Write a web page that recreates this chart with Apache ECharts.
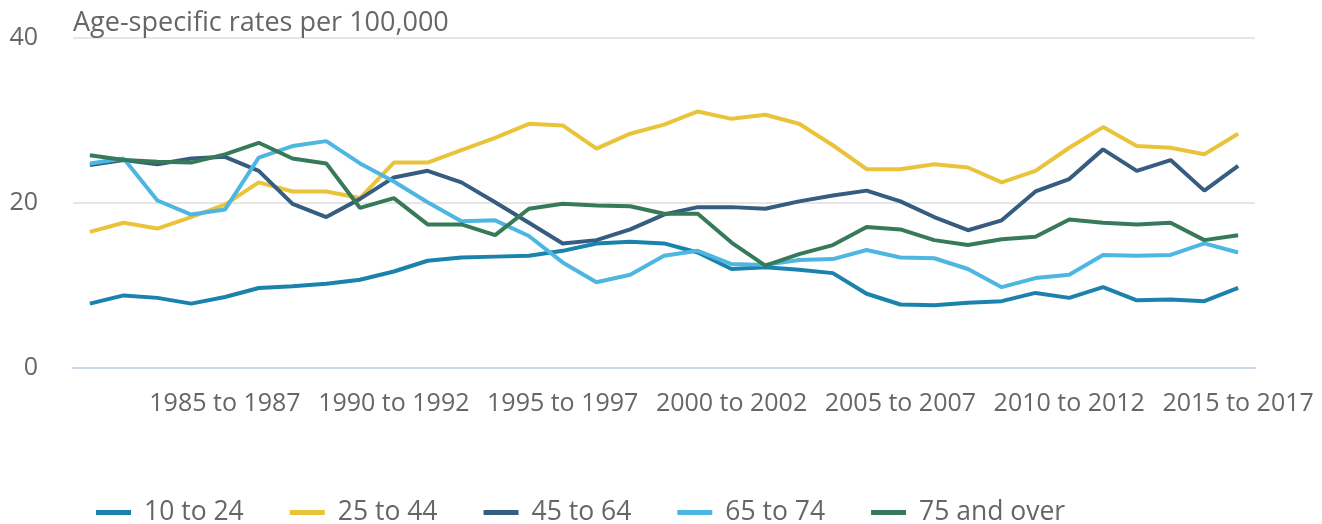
<!DOCTYPE html>
<html>
<head>
<meta charset="utf-8">
<style>
  html, body { margin: 0; padding: 0; background: #fff; }
  #chart { width: 1322px; height: 524px; }
</style>
<script src="https://cdn.jsdelivr.net/npm/echarts@6/dist/echarts.min.js"></script>
</head>
<body>
<div id="chart"></div>
<script>
// three-year periods, 1981 to 1983 ... 2015 to 2017
const periods = [];
for (let y = 1981; y <= 2015; y++) periods.push(y + " to " + (y + 2));

const seriesNames = ["10 to 24", "25 to 44", "45 to 64", "65 to 74", "75 and over"];
const seriesColors = ["#1b82ad", "#e9c43b", "#365c80", "#4db6e1", "#377a59"];

const age10to24 = [7.8, 8.8, 8.5, 7.8, 8.6, 9.7, 9.9, 10.2, 10.7, 11.7, 13.0, 13.4, 13.5, 13.6, 14.2, 15.1, 15.3, 15.1,
  14.0, 12.0, 12.2, 11.9, 11.5, 9.0, 7.7, 7.6, 7.9, 8.1, 9.1, 8.5, 9.8, 8.2, 8.3, 8.1, 9.7];
const age25to44 = [16.5, 17.6, 16.9, 18.3, 19.8, 22.5, 21.4, 21.4, 20.6, 24.9, 24.9, 26.4, 27.9, 29.6, 29.4, 26.6, 28.4, 29.5,
  31.1, 30.2, 30.7, 29.6, 27.0, 24.1, 24.1, 24.7, 24.3, 22.5, 23.9, 26.7, 29.2, 26.9, 26.7, 25.9, 28.4];
const age45to64 = [24.6, 25.2, 24.7, 25.4, 25.6, 23.9, 19.9, 18.3, 20.5, 23.1, 23.9, 22.5, 20.1, 17.6, 15.1, 15.5, 16.8, 18.6,
  19.5, 19.5, 19.3, 20.2, 20.9, 21.5, 20.2, 18.3, 16.7, 17.9, 21.4, 22.9, 26.5, 23.9, 25.2, 21.5, 24.5];
const age65to74 = [24.8, 25.4, 20.3, 18.6, 19.2, 25.5, 26.9, 27.5, 24.8, 22.6, 20.1, 17.8, 17.9, 16.0, 12.8, 10.4, 11.3, 13.6,
  14.2, 12.6, 12.5, 13.1, 13.2, 14.3, 13.4, 13.3, 12.0, 9.8, 10.9, 11.3, 13.7, 13.6, 13.7, 15.1, 14.0];
const age75over = [25.8, 25.2, 25.0, 24.9, 25.9, 27.3, 25.4, 24.8, 19.4, 20.6, 17.4, 17.4, 16.1, 19.3, 19.9, 19.7, 19.6, 18.7,
  18.7, 15.2, 12.4, 13.8, 14.9, 17.1, 16.8, 15.5, 14.9, 15.6, 15.9, 18.0, 17.6, 17.4, 17.6, 15.5, 16.1];
const seriesValues = [age10to24, age25to44, age45to64, age65to74, age75over];

const yTicks = [0, 20, 40];
const font = "'Open Sans', sans-serif";
const textGrey = "#666666";

const chart = echarts.init(document.getElementById("chart"), null, { renderer: "canvas" });

const everyFifth = (index) => index % 5 === 4;

const option = {
  animation: false,
  color: seriesColors,
  title: {
    text: "Age-specific rates per 100,000",
    left: 68,
    top: 5,
    textStyle: { fontFamily: font, fontSize: 27, fontWeight: "normal", color: textGrey }
  },
  grid: { left: 73, right: 67, top: 38, bottom: 156 },
  xAxis: {
    type: "category",
    data: periods,
    boundaryGap: true,
    axisLine: { lineStyle: { color: "#ccd6eb", width: 2 } },
    axisTick: { alignWithLabel: true, interval: everyFifth, length: 20, lineStyle: { color: "#ccd6eb", width: 2 } },
    axisLabel: { interval: everyFifth, margin: 23, fontFamily: font, fontSize: 25, color: textGrey }
  },
  yAxis: {
    type: "value",
    min: yTicks[0],
    max: yTicks[yTicks.length - 1],
    interval: 20,
    axisLine: { show: false },
    axisTick: { show: false },
    splitLine: { lineStyle: { color: "#e6e6e6", width: 2 } },
    axisLabel: { margin: 35, fontFamily: font, fontSize: 25, color: textGrey }
  },
  legend: {
    top: 494,
    left: 91,
    itemWidth: 35,
    itemHeight: 5,
    itemGap: 46,
    icon: "rect",
    textStyle: { fontFamily: font, fontSize: 26.5, color: textGrey, padding: [0, 0, 0, 8] },
    data: seriesNames
  },
  series: seriesNames.map((name, i) => ({
    name: name,
    type: "line",
    data: seriesValues[i],
    symbol: "none",
    lineStyle: { width: 4 },
    emphasis: { disabled: true }
  }))
};

chart.setOption(option);
</script>
</body>
</html>
